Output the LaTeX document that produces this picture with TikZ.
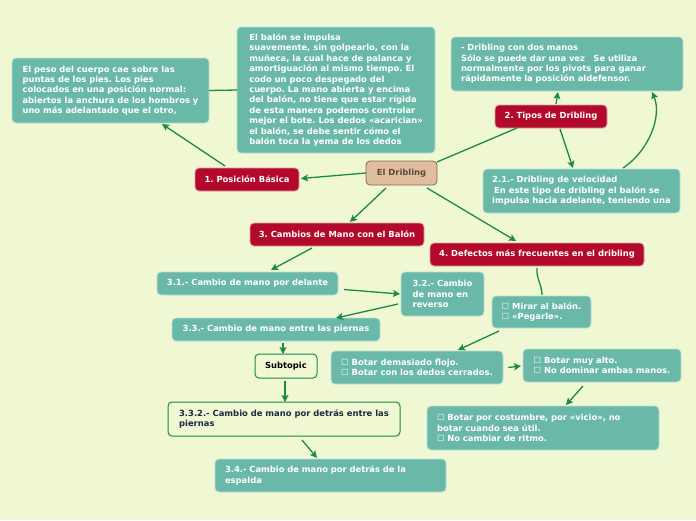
\documentclass[tikz,border=0pt]{standalone}
\usepackage{fontspec}
\setmainfont{DejaVu Sans}[BoldFont={DejaVu Sans Bold}]
\newfontfamily\symf{DejaVu Sans}
\usetikzlibrary{arrows.meta,calc}
\definecolor{bgc}{HTML}{EFF8D2}
\definecolor{tealc}{HTML}{6AB9A8}
\definecolor{redc}{HTML}{B3092B}
\definecolor{tanc}{HTML}{E0BD9E}
\definecolor{tanb}{HTML}{7F6A52}
\definecolor{tant}{HTML}{5A4A3A}
\definecolor{linec}{HTML}{1B8A44}
\definecolor{navyc}{HTML}{1A2A40}
\newcommand{\cb}{{\symf\char"2610}}
\frenchspacing
\tikzset{
  base/.style={anchor=north west, rounded corners=4pt, inner xsep=2pt, inner ysep=2pt,
    font=\fontsize{8.4}{10.4}\selectfont\bfseries\frenchspacing, outer sep=0pt},
  tealbox/.style={base, fill=tealc, draw=white!55!tealc, line width=0.8pt, text=white, align=left},
  lft/.style={text width=#1, inner xsep=10pt},
  redbox/.style={base, fill=redc, draw=white!60!redc, line width=0.8pt, text=white, align=center},
  centbox/.style={base, fill=tanc, draw=tanb, line width=0.8pt, text=tant, align=center},
  subbox/.style={base, fill=bgc, draw=linec, line width=1pt, text=black, align=center},
  subbox2/.style={base, fill=bgc, draw=linec, line width=1pt, text=navyc, align=left},
  conn/.style={draw=linec, line width=1.3pt},
  arr/.style={conn, -{Stealth[length=7pt,width=7pt,inset=1.5pt]}},
}
\begin{document}
\begin{tikzpicture}[x=1pt,y=-1pt]
\fill[bgc] (0,0) rectangle (696,520);
\useasboundingbox (0,0) rectangle (696,520);

\node[tealbox, minimum width=197pt, minimum height=65pt] (peso) at (12,58)
 {El peso del cuerpo cae sobre las\\ puntas de los pies. Los pies\\ colocados en una posición normal:\\ abiertos la anchura de los hombros y\\ uno más adelantado que el otro,};
\node[tealbox, minimum width=198pt, minimum height=126pt] (balon) at (237,27)
 {El balón se impulsa\\ suavemente, sin golpearlo, con la\\ muñeca, la cual hace de palanca y\\ amortiguación al mismo tiempo. El\\ codo un poco despegado del\\ cuerpo. La mano abierta y encima\\ del balón, no tiene que estar rígida\\ de esta manera podemos controlar\\ mejor el bote. Los dedos «acarician»\\ el balón, se debe sentir cómo el\\ balón toca la yema de los dedos};
\node[tealbox, lft=212pt, minimum height=54pt] (dos) at (451,37)
 {- Dribling con dos manos\\ Sólo se puede dar una vez\quad Se utiliza\\ normalmente por los pivots para ganar\\ rápidamente la posición aldefensor.};
\node[redbox, minimum width=112pt, minimum height=23pt] (tipos) at (495,105) {2. Tipos de Dribling};
\node[centbox, minimum width=71pt, minimum height=24pt] (central) at (366,161) {El Dribling};
\node[redbox, minimum width=104pt, minimum height=23pt] (posicion) at (195,168) {1. Posición Básica};
\node[tealbox, minimum width=197pt, minimum height=44pt] (velocidad) at (483,169)
 {2.1.- Dribling de velocidad\\ \hspace*{2pt}En este tipo de dribling el balón se\\ impulsa hacia adelante, teniendo una};
\node[redbox, minimum width=174pt, minimum height=23pt] (cambios) at (250,223) {3. Cambios de Mano con el Balón};
\node[redbox, minimum width=214pt, minimum height=23pt] (defectos) at (430,243) {4. Defectos más frecuentes en el dribling};
\node[tealbox, minimum width=181pt, minimum height=23pt] (c31) at (157,272) {3.1.- Cambio de mano por delante};
\node[tealbox, minimum width=83pt, minimum height=44pt] (c32) at (401,272) {3.2.- Cambio\\ de mano en\\ reverso};
\node[tealbox, minimum width=208pt, minimum height=23pt] (c33) at (172,318) {3.3.- Cambio de mano entre las piernas};
\node[tealbox, minimum width=99pt, minimum height=32pt] (mirar) at (492,296) {\cb\ Mirar al balón.\\ \cb\ «Pegarle».};
\node[subbox, minimum width=62pt, minimum height=24pt] (subtopic) at (255,354) {Subtopic};
\node[tealbox, minimum width=172pt, minimum height=33pt] (flojo) at (331,351) {\cb\ Botar demasiado flojo.\\ \cb\ Botar con los dedos cerrados.};
\node[tealbox, minimum width=158pt, minimum height=33pt] (alto) at (523,349) {\cb\ Botar muy alto.\\ \cb\ No dominar ambas manos.};
\node[subbox2, minimum width=232pt, minimum height=34pt] (c332) at (168,402) {3.3.2.- Cambio de mano por detrás entre las\\ piernas};
\node[tealbox, lft=212pt, minimum height=44pt] (costumbre) at (427,406) {\cb\ Botar por costumbre, por «vicio», no\\ botar cuando sea útil.\\ \cb\ No cambiar de ritmo.};
\node[tealbox, lft=211pt, minimum height=33pt] (c34) at (215,459) {3.4.- Cambio de mano por detrás de la\\ espalda};

% connectors
\draw[arr] (central.west) -- ($(posicion.east)+(2,-1)$);
\draw[arr] ($(posicion.north west)+(30,-2)$) -- ($(peso.south west)+(150,1)$);
\draw[conn] (peso.east) -- (balon.west);
\draw[conn] ($(central.north east)+(0,1)$) -- ($(tipos.south west)+(22,0)$);
\draw[arr] ($(tipos.north west)+(61,-1)$) -- ($(dos.south west)+(107,1)$);
\draw[arr] ($(tipos.south west)+(65,1)$) -- ($(velocidad.north west)+(90,-1)$);
\draw[arr] ($(velocidad.north west)+(140,-1)$) .. controls (650,150) and (662,115) .. ($(dos.south west)+(201,1)$);
\draw[arr] ($(central.south west)+(20,3)$) -- ($(cambios.north west)+(100,-1)$);
\draw[arr] ($(central.south east)+(-10,3)$) -- ($(defectos.north west)+(86,-2)$);
\draw[arr] ($(cambios.south west)+(62,2)$) -- ($(c31.north west)+(114,-2)$);
\draw[arr] ($(c31.east)+(6,6)$) -- ($(c32.west)+(-1,0)$);
\draw[arr] ($(c32.west)+(-3,10)$) -- ($(c33.north west)+(164,0)$);
\draw[arr] ($(c33.south west)+(111,2)$) -- ($(subtopic.north west)+(28,0)$);
\draw[arr] ($(subtopic.south west)+(30,3)$) -- ($(c332.north west)+(117,0)$);
\draw[arr] ($(c332.south west)+(134,4)$) -- ($(c34.north west)+(102,-1)$);
\draw[conn] ($(defectos.south west)+(107,2)$) .. controls (536,278) and (542,285) .. ($(mirar.north west)+(50,-1)$);
\draw[arr] ($(mirar.south west)+(7,3)$) -- ($(flojo.north west)+(127,-1)$);
\draw[arr] ($(flojo.east)+(5,0)$) -- ($(alto.west)+(-2,0.5)$);
\draw[arr] ($(alto.south west)+(60,4)$) -- ($(costumbre.north west)+(139,-1)$);
\end{tikzpicture}
\end{document}
